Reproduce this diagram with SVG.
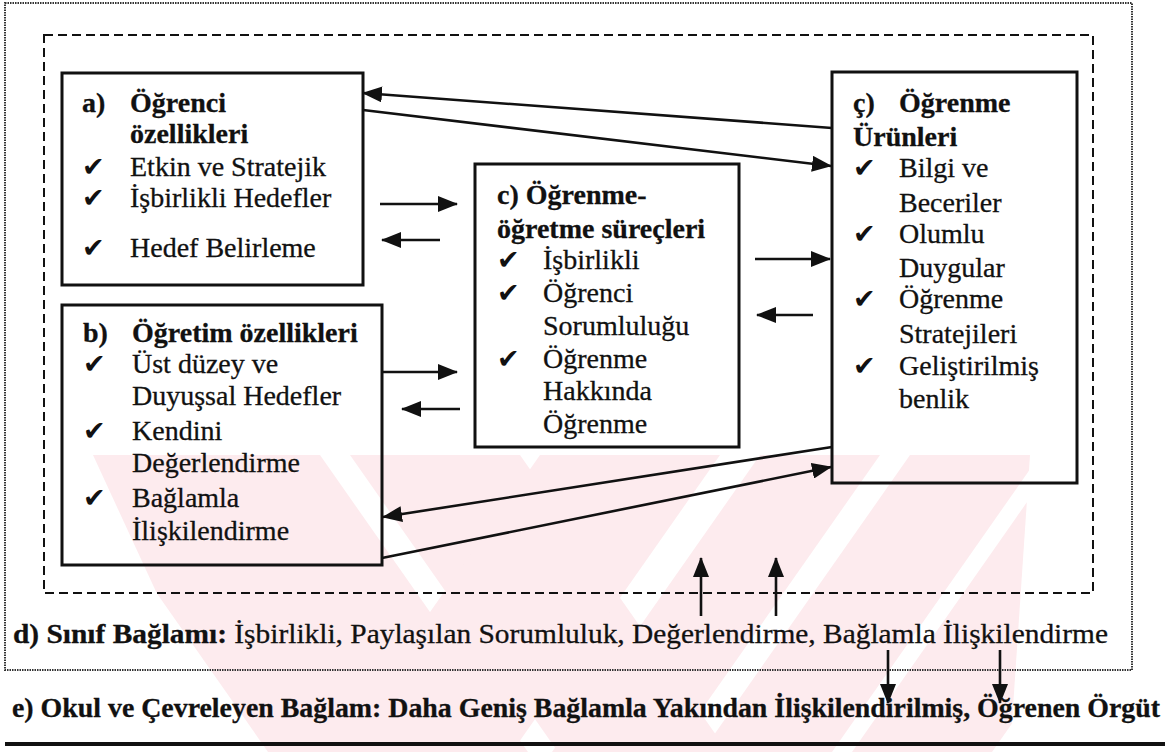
<svg xmlns="http://www.w3.org/2000/svg" width="1170" height="752" viewBox="0 0 1170 752">
<style>
  text { font-family: "Liberation Serif", "Times New Roman", serif; font-size: 28px; fill: #111; stroke: #111; stroke-width: 0.3; }
  .b { font-weight: bold; }
  .ck { font-family: "DejaVu Sans", sans-serif; font-size: 27px; font-weight: bold; stroke-width: 0; }
  .box { fill: none; stroke: #111; stroke-width: 3; }
  .con { stroke: #111; stroke-width: 2.6; fill: none; marker-end: url(#ah); }
  .wm { fill: #fdebee; }
</style>
<defs>
  <marker id="ah" viewBox="0 0 20 16" refX="19" refY="8" markerWidth="20" markerHeight="16" markerUnits="userSpaceOnUse" orient="auto">
    <path d="M0,0 L20,8 L0,16 Z" fill="#111"/>
  </marker>
  <clipPath id="wmclip"><polygon points="93,455 1030,455 1010,752 230,752"/></clipPath>
</defs>
<rect width="1170" height="752" fill="#fff"/>
<g id="watermark" clip-path="url(#wmclip)">
  <polygon class="wm" points="60,455 320,455 528,752 268,752"/>
  <polygon class="wm" points="350,455 520,455 728,752 558,752"/>
  <polygon class="wm" points="540,455 720,455 512,752 332,752"/>
  <polygon class="wm" points="760,455 880,455 672,752 552,752"/>
  <polygon class="wm" points="910,455 1040,455 832,752 702,752"/>
  <polygon class="wm" points="1060,455 1200,455 992,752 852,752"/>
</g>
<g id="frames">
  <rect x="5" y="3" width="1127" height="667" fill="none" stroke="#333" stroke-width="2" stroke-dasharray="1.5 1"/>
  <rect x="44" y="35" width="1049" height="558" fill="none" stroke="#111" stroke-width="2" stroke-dasharray="9 5"/>
  <line x1="5" y1="744" x2="1165" y2="744" stroke="#111" stroke-width="4"/>
</g>
<g id="node-a">
  <rect class="box" x="62" y="73" width="301" height="212"/>
  <text class="b" x="82" y="112">a)</text><text class="b" x="130" y="112">Öğrenci</text>
  <text class="b" x="130" y="143">özellikleri</text>
  <text class="ck" x="82" y="176">✔</text><text x="130" y="176">Etkin ve Stratejik</text>
  <text class="ck" x="82" y="207">✔</text><text x="130" y="207">İşbirlikli Hedefler</text>
  <text class="ck" x="82" y="257">✔</text><text x="130" y="257">Hedef Belirleme</text>
</g>
<g id="node-b">
  <rect class="box" x="62" y="305" width="320" height="260"/>
  <text class="b" x="83" y="342">b)</text><text class="b" x="132" y="342">Öğretim özellikleri</text>
  <text class="ck" x="83" y="373">✔</text><text x="132" y="373">Üst düzey ve</text>
  <text x="132" y="405">Duyuşsal Hedefler</text>
  <text class="ck" x="83" y="440">✔</text><text x="132" y="440">Kendini</text>
  <text x="132" y="472">Değerlendirme</text>
  <text class="ck" x="83" y="507">✔</text><text x="132" y="507">Bağlamla</text>
  <text x="132" y="540">İlişkilendirme</text>
</g>
<g id="node-c">
  <rect class="box" x="475" y="164" width="264" height="283"/>
  <text class="b" x="497" y="204">c) Öğrenme-</text>
  <text class="b" x="497" y="238">öğretme süreçleri</text>
  <text class="ck" x="497" y="269">✔</text><text x="543" y="269">İşbirlikli</text>
  <text class="ck" x="497" y="302">✔</text><text x="543" y="302">Öğrenci</text>
  <text x="543" y="335">Sorumluluğu</text>
  <text class="ck" x="497" y="368">✔</text><text x="543" y="368">Öğrenme</text>
  <text x="543" y="400">Hakkında</text>
  <text x="543" y="433">Öğrenme</text>
</g>
<g id="node-c2">
  <rect class="box" x="832" y="72" width="245" height="411"/>
  <text class="b" x="853" y="112">ç)</text><text class="b" x="899" y="112">Öğrenme</text>
  <text class="b" x="853" y="146">Ürünleri</text>
  <text class="ck" x="853" y="177">✔</text><text x="899" y="177">Bilgi ve</text>
  <text x="899" y="212">Beceriler</text>
  <text class="ck" x="853" y="243">✔</text><text x="899" y="243">Olumlu</text>
  <text x="899" y="277">Duygular</text>
  <text class="ck" x="853" y="308">✔</text><text x="899" y="308">Öğrenme</text>
  <text x="899" y="343">Stratejileri</text>
  <text class="ck" x="853" y="375">✔</text><text x="899" y="375">Geliştirilmiş</text>
  <text x="899" y="408">benlik</text>
</g>
<g id="node-d">
  <text x="13" y="643" textLength="1095" lengthAdjust="spacingAndGlyphs"><tspan class="b">d) Sınıf Bağlamı:</tspan> İşbirlikli, Paylaşılan Sorumluluk, Değerlendirme, Bağlamla İlişkilendirme</text>
</g>
<g id="node-e">
  <text class="b" x="12" y="717" textLength="1148" lengthAdjust="spacingAndGlyphs">e) Okul ve Çevreleyen Bağlam: Daha Geniş Bağlamla Yakından İlişkilendirilmiş, Öğrenen Örgüt</text>
</g>
<g id="connectors">
  <line class="con" x1="832" y1="128" x2="363" y2="93"/>
  <line class="con" x1="363" y1="110" x2="831" y2="166"/>
  <line class="con" x1="380" y1="204" x2="457" y2="204"/>
  <line class="con" x1="440" y1="240" x2="382" y2="240"/>
  <line class="con" x1="755" y1="259" x2="830" y2="259"/>
  <line class="con" x1="813" y1="315" x2="757" y2="315"/>
  <line class="con" x1="382" y1="372" x2="457" y2="372"/>
  <line class="con" x1="460" y1="409" x2="402" y2="409"/>
  <line class="con" x1="832" y1="447" x2="383" y2="517"/>
  <line class="con" x1="382" y1="558" x2="831" y2="467"/>
  <line class="con" x1="701" y1="616" x2="701" y2="558"/>
  <line class="con" x1="776" y1="616" x2="776" y2="558"/>
  <line class="con" x1="888" y1="650" x2="888" y2="703"/>
  <line class="con" x1="1000" y1="650" x2="1000" y2="703"/>
</g>
</svg>
